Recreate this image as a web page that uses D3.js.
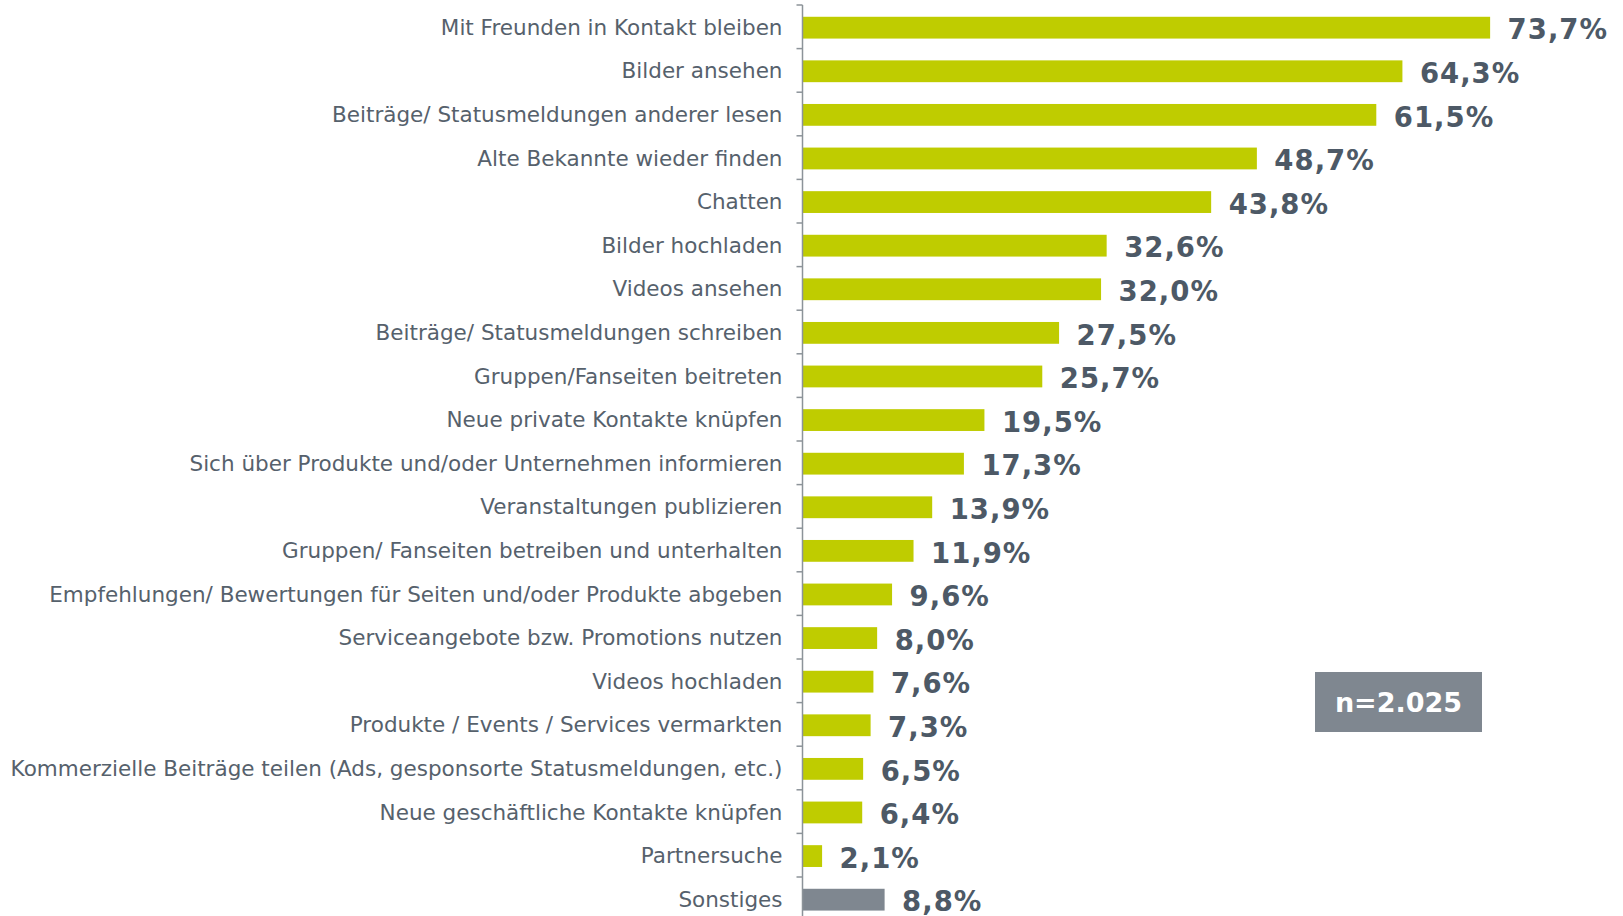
<!DOCTYPE html>
<html><head><meta charset="utf-8">
<script src="https://cdn.jsdelivr.net/npm/d3@7/dist/d3.min.js"></script>
<style>html,body{margin:0;padding:0;background:#fff;}svg{display:block;}</style>
</head><body>
<svg id="chart" width="1623" height="916"></svg>
<script>
const categories = [
  "Mit Freunden in Kontakt bleiben",
  "Bilder ansehen",
  "Beiträge/ Statusmeldungen anderer lesen",
  "Alte Bekannte wieder finden",
  "Chatten",
  "Bilder hochladen",
  "Videos ansehen",
  "Beiträge/ Statusmeldungen schreiben",
  "Gruppen/Fanseiten beitreten",
  "Neue private Kontakte knüpfen",
  "Sich über Produkte und/oder Unternehmen informieren",
  "Veranstaltungen publizieren",
  "Gruppen/ Fanseiten betreiben und unterhalten",
  "Empfehlungen/ Bewertungen für Seiten und/oder Produkte abgeben",
  "Serviceangebote bzw. Promotions nutzen",
  "Videos hochladen",
  "Produkte / Events / Services vermarkten",
  "Kommerzielle Beiträge teilen (Ads, gesponsorte Statusmeldungen, etc.)",
  "Neue geschäftliche Kontakte knüpfen",
  "Partnersuche",
  "Sonstiges"
];
const values = [73.7, 64.3, 61.5, 48.7, 43.8, 32.6, 32.0, 27.5, 25.7, 19.5, 17.3, 13.9, 11.9, 9.6, 8.0, 7.6, 7.3, 6.5, 6.4, 2.1, 8.8];
const highlight = ["Sonstiges"];
const sampleNote = "n=2.025";

(function () {
const svg = d3.select("#chart");
const axisX = 802.5;
const y0 = 5, step = 43.6;
const x = d3.scaleLinear().domain([0, 100]).range([axisX, axisX + 933]);
const y = d3.scaleBand().domain(categories).range([y0, y0 + step * categories.length]).padding(0);
const barOff = step * 0.27, barH = step * 0.5;
const fmt = v => d3.format(".1f")(v).replace(".", ",") + "%";

const green = "#bfcc00", grey = "#7f8790";

svg.selectAll("rect.bar").data(categories).join("rect")
  .attr("class", "bar")
  .attr("x", x(0))
  .attr("y", c => y(c) + barOff)
  .attr("width", (c, i) => x(values[i]) - x(0))
  .attr("height", barH)
  .attr("fill", c => highlight.includes(c) ? grey : green);

svg.append("line").attr("x1", axisX).attr("x2", axisX).attr("y1", y0).attr("y2", 916)
  .attr("stroke", "#8c9399").attr("stroke-width", 1.5);
svg.selectAll("line.tick").data(categories).join("line")
  .attr("class", "tick")
  .attr("x1", axisX - 6).attr("x2", axisX)
  .attr("y1", c => y(c)).attr("y2", c => y(c))
  .attr("stroke", "#8c9399").attr("stroke-width", 1.5);

svg.selectAll("text.cat").data(categories).join("text")
  .attr("class", "cat")
  .attr("x", axisX - 20)
  .attr("y", c => y(c) + step / 2 + 8)
  .attr("text-anchor", "end")
  .attr("font-family", "DejaVu Sans, Verdana, sans-serif")
  .attr("font-size", 21.5)
  .attr("fill", "#56616c")
  .text(c => c);

svg.selectAll("text.val").data(categories).join("text")
  .attr("class", "val")
  .attr("x", (c, i) => x(values[i]) + 17.5)
  .attr("y", c => y(c) + step / 2 + 12.5)
  .attr("font-family", "DejaVu Sans, Verdana, sans-serif")
  .attr("font-weight", "bold")
  .attr("font-size", 27.5)
  .attr("letter-spacing", 1)
  .attr("fill", "#4d5966")
  .text((c, i) => fmt(values[i]));

const bx = 1315, by = 672, bw = 167, bh = 60;
svg.append("rect").attr("x", bx).attr("y", by).attr("width", bw).attr("height", bh).attr("fill", grey);
svg.append("text").attr("x", bx + bw / 2).attr("y", by + bh / 2 + 10)
  .attr("text-anchor", "middle")
  .attr("font-family", "DejaVu Sans, Verdana, sans-serif")
  .attr("font-weight", "bold").attr("font-size", 27).attr("fill", "#fff")
  .text(sampleNote);
})();
</script>
</body></html>
